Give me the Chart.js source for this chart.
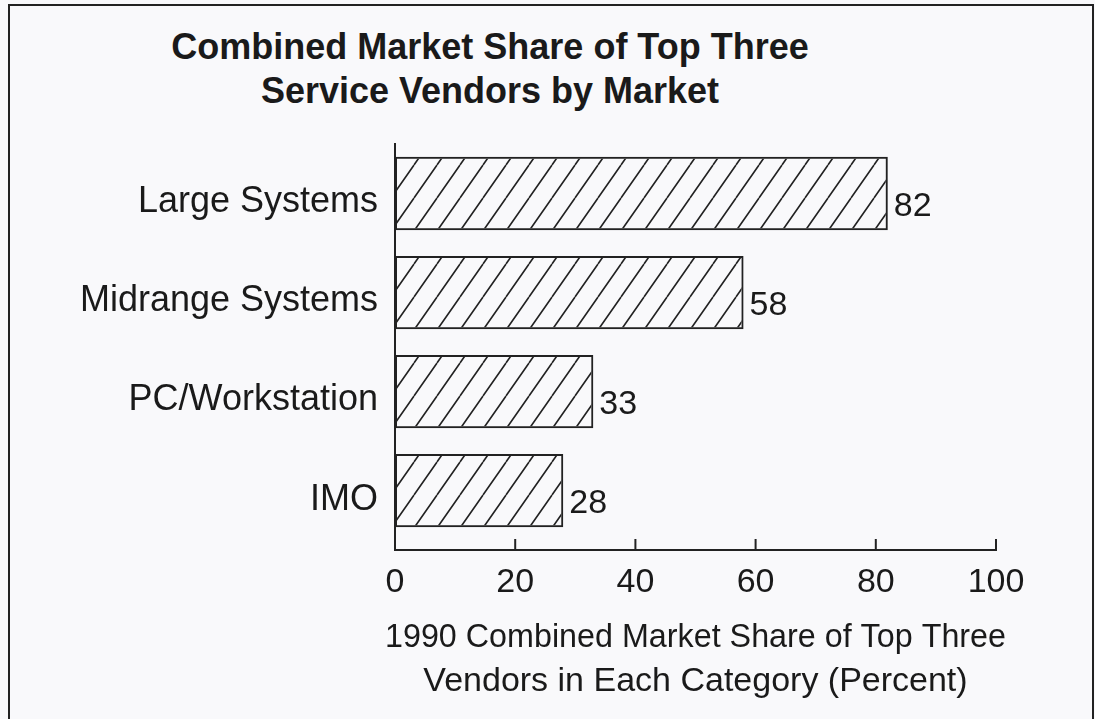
<!DOCTYPE html>
<html>
<head>
<meta charset="utf-8">
<script src="https://cdn.jsdelivr.net/npm/chart.js@4/dist/chart.umd.min.js"></script>
<style>
    html, body { margin: 0; padding: 0; background: #f9f9fb; }
    #wrap { position: relative; width: 1095px; height: 719px; overflow: hidden; }
    #frame {
        position: absolute; left: 8px; top: 4px; width: 1082px; height: 800px;
        border: 2px solid #222; pointer-events: none;
    }
    #title {
        position: absolute; left: 0; top: 25px; width: 980px; text-align: center;
        font: bold 36px "Liberation Sans", Arial, Helvetica, sans-serif;
        line-height: 44px; color: #1a1a1a;
    }
    canvas { position: absolute; left: 0; top: 0; }
</style>
</head>
<body>
<div id="wrap">
    <div id="title">Combined Market Share of Top Three<br>Service Vendors by Market</div>
    <canvas id="marketChart" width="1095" height="719"></canvas>
    <div id="frame"></div>
</div>
<script>
// Chart data
const categories = ['Large Systems', 'Midrange Systems', 'PC/Workstation', 'IMO'];
const shareValues = [82, 58, 33, 28];
const xTickValues = [0, 20, 40, 60, 80, 100];
const xAxisTitle = ['1990 Combined Market Share of Top Three', 'Vendors in Each Category (Percent)'];

const ink = '#1a1a1a';
const fontFamily = '"Liberation Sans", Arial, Helvetica, sans-serif';

/**
 * Diagonal hatch pattern for the bars
 */
function makeHatch() {
    const w = 23, h = 33;
    const tile = document.createElement('canvas');
    tile.width = w;
    tile.height = h;
    const c = tile.getContext('2d');
    c.strokeStyle = '#222';
    c.lineWidth = 1.6;
    c.beginPath();
    c.moveTo(0, h); c.lineTo(w, 0);
    c.moveTo(-w, h); c.lineTo(0, 0);
    c.moveTo(w, h); c.lineTo(2 * w, 0);
    c.stroke();
    return c.createPattern(tile, 'repeat');
}

// Inner tick marks on the x axis, value labels beside the bars, x axis title
const decorations = {
    id: 'decorations',
    afterDatasetsDraw(chart) {
        const ctx = chart.ctx;
        const x = chart.scales.x;
        const area = chart.chartArea;

        ctx.save();
        ctx.strokeStyle = '#222';
        ctx.lineWidth = 2;
        x.ticks.forEach(t => {
            const px = x.getPixelForValue(t.value);
            ctx.beginPath();
            ctx.moveTo(px, area.bottom);
            ctx.lineTo(px, area.bottom - 11);
            ctx.stroke();
        });

        ctx.fillStyle = ink;
        ctx.font = '34px ' + fontFamily;
        ctx.textAlign = 'left';
        ctx.textBaseline = 'middle';
        chart.getDatasetMeta(0).data.forEach((bar, i) => {
            ctx.fillText(String(shareValues[i]), bar.x + 6, bar.y + 13);
        });

        // axis title (first line slightly squeezed, like the original)
        ctx.font = '34px ' + fontFamily;
        ctx.textAlign = 'center';
        const cx = (area.left + area.right) / 2;
        const maxW = area.right - area.left + 20;
        xAxisTitle.forEach((line, i) => {
            ctx.fillText(line, cx, area.bottom + 88 + i * 44, maxW);
        });
        ctx.restore();
    }
};

const ctx = document.getElementById('marketChart');

new Chart(ctx, {
    type: 'bar',
    data: {
        datasets: [{
            data: shareValues.map((v, i) => ({ x: v, y: i })),
            backgroundColor: makeHatch(),
            borderColor: '#222',
            borderWidth: 2,
            borderSkipped: false,
            barPercentage: 0.74,
            categoryPercentage: 1,
        }]
    },
    options: {
        indexAxis: 'y',
        responsive: false,
        animation: false,
        layout: {
            padding: { top: 144, right: 99, bottom: 0, left: 0 }
        },
        plugins: {
            legend: { display: false },
            tooltip: { enabled: false },
            title: { display: false }
        },
        scales: {
            x: {
                type: 'linear',
                min: 0,
                max: 100,
                grid: { display: false },
                border: { display: true, color: '#222', width: 2 },
                afterBuildTicks: scale => {
                    scale.ticks = xTickValues.map(v => ({ value: v }));
                },
                afterFit: scale => { scale.height = 169; },
                ticks: {
                    color: ink,
                    padding: 4,
                    font: { family: fontFamily, size: 34 }
                }
            },
            y: {
                type: 'linear',
                reverse: true,
                offset: false,
                min: -0.5,
                max: 3.6,
                grid: { display: false, offset: false },
                border: { display: true, color: '#222', width: 2 },
                afterBuildTicks: scale => {
                    scale.ticks = categories.map((c, i) => ({ value: i }));
                },
                afterFit: scale => { scale.width = 395; },
                ticks: {
                    color: ink,
                    padding: 9,
                    labelOffset: 9,
                    font: { family: fontFamily, size: 36 },
                    callback: v => categories[v] ?? ''
                }
            }
        }
    },
    plugins: [decorations]
});
</script>
</body>
</html>
